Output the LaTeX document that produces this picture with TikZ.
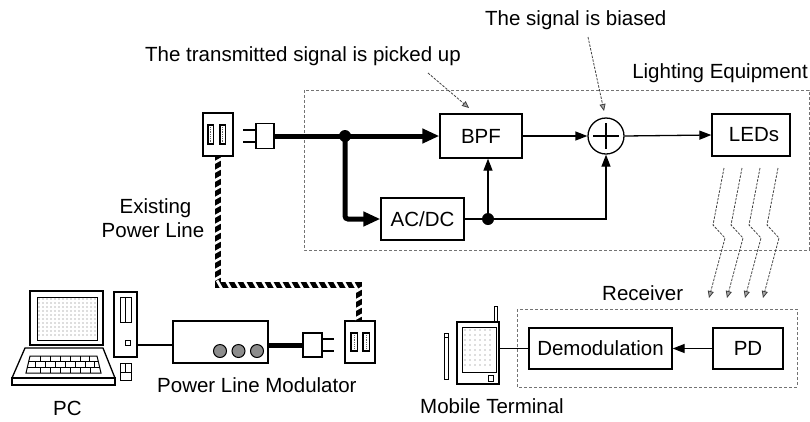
\documentclass[tikz,border=0pt]{standalone}
\usepackage{fontspec}
\setmainfont{Liberation Sans}
\usetikzlibrary{arrows.meta,decorations.markings}
\begin{document}
\begin{tikzpicture}[x=1pt,y=-1pt,
  font=\fontsize{20.5}{24}\selectfont,
  box/.style={draw,line width=1.3pt,inner sep=0pt,fill=white},
  thinline/.style={line width=1.3pt},
  heavy/.style={line width=5pt},
  tip/.style={-{Triangle[length=12pt,width=9pt]}},
  heavytip/.style={-{Triangle[length=17pt,width=14pt]}},
  ray/.style={line width=0.8pt,black!75,dash pattern=on 2.5pt off 1.3pt,
    -{Triangle[open,length=7pt,width=6pt,fill=black!35]}},
  frame/.style={draw=black!55,line width=1pt,dash pattern=on 3pt off 2pt},
  stripe/.style={line width=6pt,
    postaction={decorate,decoration={markings,
      mark=between positions 4pt and 1 step 9pt with
        {\draw[white,line width=2.6pt] (-2.5,-4.5) -- (2.5,4.5);}}}},
  slot/.style={draw,line width=1.4pt,fill=white},
  label/.style={inner sep=0pt}
]
\useasboundingbox (0,0) rectangle (810,421);

% ---------- lighting equipment ----------
\draw[frame] (304,90) rectangle (809,250);
\node[label,anchor=base east] (lighteq) at (808,78) {Lighting Equipment};

\node[box,minimum width=82pt,minimum height=44pt] (bpf) at (481,136) {BPF};
\node[box,minimum width=83pt,minimum height=42pt] (acdc) at (422.5,219) {AC/DC};
\node[box,minimum width=78pt,minimum height=42pt] (leds) at (751,135) {\hspace*{6pt}LEDs};
\node[draw,circle,line width=1.3pt,minimum size=36pt,inner sep=0pt] (sum) at (606,136) {};
\draw[thinline] (593,136) -- (619,136) (606,123) -- (606,149);

\coordinate (j1) at (345,136);
\coordinate (j3) at (488,219);

% ---------- wall outlet and plug ----------
\node[box,minimum width=30pt,minimum height=43pt] (outlet1) at (218,134.5) {};
\draw[slot] (208,125) rectangle (213.5,144);
\draw[slot] (220,125) rectangle (225.5,144);
\draw[black!60,line width=0.8pt,dash pattern=on 0.8pt off 1pt] (210.75,127) -- (210.75,142) (222.75,127) -- (222.75,142);

\node[box,minimum width=18pt,minimum height=25pt] (plug1) at (265,136) {};
\draw[thinline] (plug1.west) ++(0,-6) -- ++(-12,0);
\draw[thinline] (plug1.west) ++(0,6) -- ++(-12,0);

% power feed
\draw[heavy] (plug1.east) -- (j1);
\draw[heavy,heavytip] (j1) -- (bpf.west);
\draw[heavy,heavytip,rounded corners=3pt] (j1) |- (acdc.west);
\fill (j1) circle (6);

% signal paths
\draw[thinline] (acdc.east) -- (j3);
\draw[thinline,tip] (j3) -- (j3 |- bpf.south);
\draw[thinline,tip] (j3) -| (sum.south);
\fill (j3) circle (6);
\draw[thinline,tip] (bpf.east) -- (sum.west);
\draw[thinline,tip] (sum.east) -- (leds.west);

% annotations
\node[label,anchor=base west] (pickup) at (145,61) {The transmitted signal is picked up};
\node[label,anchor=base west] (bias) at (485,25) {The signal is biased};
\coordinate (pickA) at (428,73);
\coordinate (pickB) at (469,108);
\coordinate (biasA) at (588,37);
\coordinate (biasB) at (604,111);
\draw[ray] (pickA) -- (pickB);
\draw[ray] (biasA) -- (biasB);

% light emitted by the LEDs
\foreach \k in {0,1,2,3}{
  \draw[ray] (724+18*\k,168) -- (713+18*\k,225) -- (725+18*\k,238) -- (709+18*\k,298);
}

% ---------- existing power line ----------
\node[label,anchor=base] (exist1) at (155.5,213) {Existing};
\node[label,anchor=base] (exist2) at (153,237) {Power Line};

\node[box,minimum width=30pt,minimum height=42pt] (outlet2) at (360,342) {};
\draw[slot] (351,333) rectangle (357.5,351);
\draw[slot] (363,333) rectangle (369.5,351);
\draw[black!60,line width=0.8pt,dash pattern=on 0.8pt off 1pt] (354.25,335) -- (354.25,349) (366.25,335) -- (366.25,349);

\coordinate (bend) at (359,285);
\draw[stripe] (outlet1.south) |- (bend) -- (outlet2.north -| bend);

\node[box,minimum width=19pt,minimum height=24pt] (plug2) at (312.5,345) {};
\draw[thinline] (plug2.east) ++(0,-6) -- ++(11,0);
\draw[thinline] (plug2.east) ++(0,6) -- ++(11,0);

% ---------- modulator ----------
\node[box,minimum width=95pt,minimum height=42pt] (modem) at (220.5,342) {};
\foreach \cx in {220,238.5,257}{
  \draw[line width=1pt,fill=black!45] (\cx,351) circle (6.5);
}
\draw[heavy] (plug2.west) -- (plug2.west -| modem.east);
\node[label,anchor=base west] (modlabel) at (157,392) {Power Line Modulator};

% ---------- PC ----------
\node[box,minimum width=73pt,minimum height=54pt] (monitor) at (66.5,318) {};
\draw[line width=1pt] (37,297) rectangle (97,340);
\foreach \px in {39,43,...,95}{
  \foreach \py in {299,303,...,338}{
    \fill[black!55] (\px,\py) circle (0.6);
  }
}
\draw[thinline,fill=white] (12,378) -- (25,348) -- (103,348) -- (115,378) -- cycle;
\draw[thinline] (12,378) rectangle (115,385);
\draw[line width=1pt] (30,356) -- (97,356) -- (101,373) -- (26,373) -- cycle;
\draw[line width=1pt] (28.6,361.7) -- (98.4,361.7) (27.3,367.3) -- (99.7,367.3);
\foreach \sx in {40,50,60,70,80,89}{ \draw[line width=1pt] (\sx,356) -- (\sx,361.7); }
\foreach \sx in {35,45,55,65,75,85,94}{ \draw[line width=1pt] (\sx,361.7) -- (\sx,367.3); }
\foreach \sx in {40,50,60,70,80,90}{ \draw[line width=1pt] (\sx,367.3) -- (\sx,373); }

\node[box,minimum width=23pt,minimum height=65pt] (tower) at (125.5,324.5) {};
\draw[line width=1pt] (120,297) rectangle (131,322) (125.5,297) -- (125.5,322);
\draw[line width=1pt] (125,340) rectangle (130,345);
\draw[line width=1pt] (120,363) rectangle (131,380) (125.5,363) -- (125.5,372) (120,372) -- (131,372);
\node[label,anchor=base west] (pclabel) at (53,415) {PC};

\draw[thinline] (tower.east |- plug2.west) -- (modem.west |- plug2.west);

% ---------- receiver ----------
\draw[frame] (517,309) rectangle (797,387);
\node[label,anchor=base west] (rxlabel) at (602,300) {Receiver};
\node[box,minimum width=143pt,minimum height=41pt] (demod) at (600.5,348.5) {Demodulation};
\node[box,minimum width=70pt,minimum height=41pt] (pd) at (748,348.5) {PD};
\draw[thinline,tip] (pd.west) -- (demod.east);

% mobile terminal
\node[box,minimum width=42pt,minimum height=62pt] (mobile) at (478,353) {};
\draw[line width=1pt] (462,327) rectangle (496,372);
\foreach \px in {465,470,...,493}{
  \foreach \py in {330,335,...,369}{
    \fill[black!55] (\px,\py) circle (0.6);
  }
}
\draw[line width=1pt] (494,306) rectangle (497,322);
\draw[line width=1pt] (488,375) rectangle (493,381);
\draw[line width=1pt] (444,333) rectangle (448,379) (444,337) -- (448,337);
\draw[thinline] (mobile.east |- demod.west) -- (demod.west);
\node[label,anchor=base west] (mtlabel) at (420,413) {Mobile Terminal};
\end{tikzpicture}
\end{document}
